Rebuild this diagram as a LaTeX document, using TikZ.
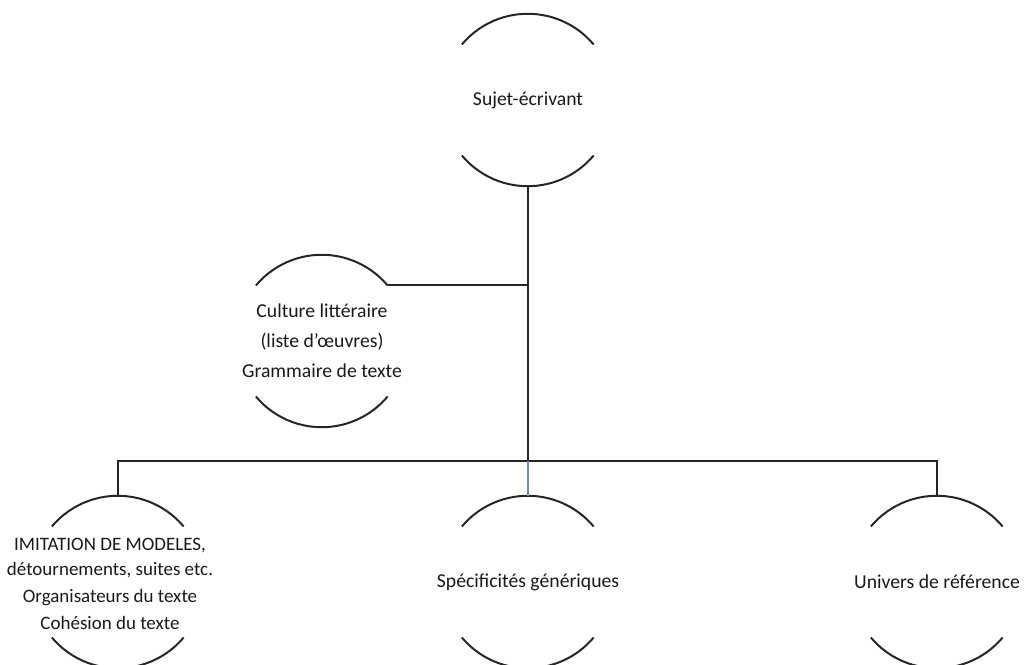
\documentclass[tikz,border=0pt]{standalone}
\usepackage{fontspec}
\setmainfont{Carlito}
\usetikzlibrary{calc}
\definecolor{linkblue}{RGB}{110,140,170}
\def\rad{1.72}
\def\caparcs#1{\draw[arcline] (#1.140) arc (140:40:\rad); \draw[arcline] (#1.220) arc (220:320:\rad);}

\begin{document}
\begin{tikzpicture}[
	bubble/.style={circle, minimum size=3.44cm, inner sep=0pt},
	txt/.style={align=center, font=\fontsize{11.2}{17}\selectfont, text=black!90},
	arcline/.style={line width=0.4mm, color=black!85},
	link/.style={line width=0.4mm, color=black!85}]
		%%%%% START %%%%%
		\useasboundingbox (0, 0) rectangle (20.5, 13.28);
		
		\node[bubble, label={[txt]center:Sujet-écrivant}] (top) at (10.56, 11.28) {};
		\node[bubble, label={[txt]center:Culture littéraire\\(liste d’œuvres)\\Grammaire de texte}] (lit) at (6.44, 6.46) {};
		
		\node[bubble, label={[txt, font=\fontsize{10.8}{14.3}\selectfont, xshift=-0.16cm, yshift=-0.03cm]center:IMITATION DE MODELES,\\détournements, suites etc.\\[1pt]Organisateurs du texte\\[1pt]Cohésion du texte}] (imit) at (2.36, 1.64) {};
		\node[bubble, label={[txt]center:Spécificités génériques}] (gen) at (10.56, 1.64) {};
		\node[bubble, label={[txt]center:Univers de référence}] (univ) at (18.74, 1.64) {};
		
		\caparcs{top}
		\caparcs{lit}
		\caparcs{imit}
		\caparcs{gen}
		\caparcs{univ}
		
		\coordinate (jn) at (10.56, 4.06);
		
		\draw[link] (top.south) -- (jn);
		\draw[link] (lit.40) -- (lit.40 -| top.south);
		\draw[link] (imit.north) |- (jn) -| (univ.north);
		\draw[line width=0.25mm, color=linkblue] (jn) -- (gen.north);
		
		%%%%% END %%%%%
	\end{tikzpicture}
\end{document}
